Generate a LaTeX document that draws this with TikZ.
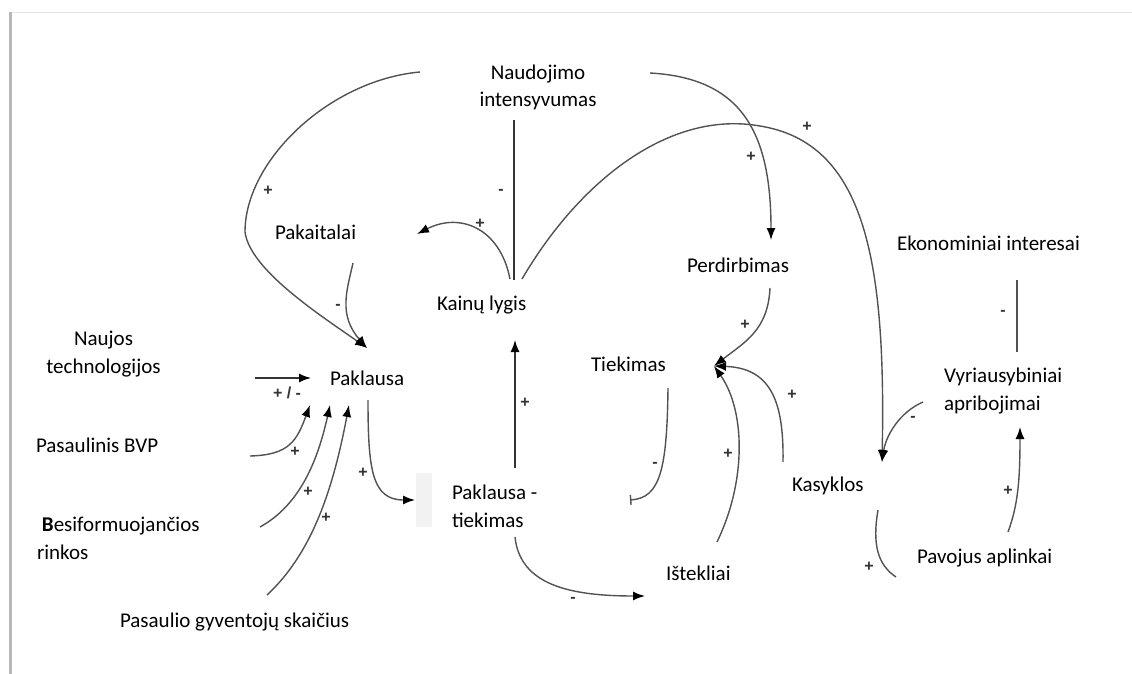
\documentclass[tikz,border=0pt]{standalone}
\usepackage{fontspec}
\setmainfont{Carlito}
\newfontfamily\signfont{Liberation Sans}
\usetikzlibrary{arrows.meta}

\begin{document}
\begin{tikzpicture}[x=1pt,y=-1pt,
  every node/.style={inner sep=0pt, outer sep=0pt},
  lbl/.style={font=\fontsize{21}{27.5}\selectfont},
  sign/.style={font=\signfont\bfseries\fontsize{16}{16}\selectfont, text=black!80},
  conn/.style={draw=black!68, line width=1.4pt},
  straight/.style={draw=black!80, line width=1.4pt},
  tip/.style={-{Latex[length=12pt,width=9pt,color=black]}},
]
\useasboundingbox (0,0) rectangle (1132,674);

% page frame
\draw[black!10, line width=1.5pt] (10.5,12.5) -- (1132,12.5);
\draw[black!28, line width=2.5pt] (10.5,12) -- (10.5,674);
\fill[black!5] (416,473) rectangle (432,527);

% variables (multi-line nodes sit on the baseline of their last line)
\node[lbl, align=center, anchor=base] (naud) at (538,107) {Naudojimo\\intensyvumas};
\node[lbl, anchor=base west] (pakait) at (275,239) {Pakaitalai};
\node[lbl, anchor=base west] (kain) at (437,310) {Kainų lygis};
\node[lbl, anchor=base west] (perd) at (687,272) {Perdirbimas};
\node[lbl, anchor=base west] (ekon) at (897,250) {Ekonominiai interesai};
\node[lbl, align=center, anchor=base] (naujos) at (103.5,373) {Naujos\\technologijos};
\node[lbl, anchor=base west] (pakl) at (330,385) {Paklausa};
\node[lbl, anchor=base west] (tiek) at (591,371) {Tiekimas};
\node[lbl, align=left, anchor=base west] (vyr) at (944,410) {Vyriausybiniai\\apribojimai};
\node[lbl, anchor=base west] (bvp) at (36,452) {Pasaulinis BVP};
\node[lbl, anchor=base west] (kas) at (792,491) {Kasyklos};
\node[lbl, align=left, anchor=base west] (pt) at (452,527) {Paklausa -\\tiekimas};
\node[lbl, align=left, anchor=base west] (besi) at (37,559) {\hspace*{5pt}\textbf{B}esiformuojančios\\rinkos};
\node[lbl, anchor=base west] (ist) at (666,580) {Ištekliai};
\node[lbl, anchor=base west] (pav) at (917,563) {Pavojus aplinkai};
\node[lbl, anchor=base west] (gyv) at (120,627) {Pasaulio gyventojų skaičius};

% connector ends
\coordinate (naudL) at (420,72);
\coordinate (naudR) at (650,73);
\coordinate (naudB) at (514,120);
\coordinate (kainT) at (514,280);
\coordinate (kainL) at (510,279);
\coordinate (kainR) at (522,279);
\coordinate (kainIn) at (515,340);
\coordinate (pakaitIn) at (417,234);
\coordinate (pakaitB) at (353,263);
\coordinate (paklIn) at (367,348);
\coordinate (paklB) at (368,400);
\coordinate (paklW) at (255,378);
\coordinate (paklWin) at (311,378);
\coordinate (paklS1) at (310,405);
\coordinate (paklS2) at (330,405);
\coordinate (paklS3) at (349,405);
\coordinate (bvpE) at (250,456);
\coordinate (besiE) at (260,527);
\coordinate (gyvE) at (267,595);
\coordinate (ptIn) at (415,500);
\coordinate (ptT) at (515,468);
\coordinate (ptB) at (515,537);
\coordinate (perdIn) at (771,240);
\coordinate (perdB) at (770,288);
\coordinate (tiekB) at (668,388);
\coordinate (tiekEnd) at (630,500);
\coordinate (istIn) at (645,596);
\coordinate (istT) at (717,542);
\coordinate (join) at (714,366);
\coordinate (kasT) at (783,462);
\coordinate (kasIn) at (882,462);
\coordinate (kasB) at (878,510);
\coordinate (pavW) at (896,577);
\coordinate (pavT) at (1008,532);
\coordinate (vyrT) at (1017,352);
\coordinate (vyrIn) at (1020,427);
\coordinate (vyrW) at (923,402);
\coordinate (ekonB) at (1017,280);

% links
\draw[conn,tip] (naudL) .. controls (330,80) and (245,160) .. (245,232)
  .. controls (250,270) and (320,315) .. (paklIn);
\draw[conn,tip] (pakaitB) .. controls (347,290) and (338,315) .. (paklIn);
\draw[straight] (naudB) -- (kainT);
\draw[conn,tip] (kainL) .. controls (500,228) and (460,212) .. (pakaitIn);
\draw[conn,tip] (kainR) .. controls (580,180) and (670,110) .. (760,126)
  .. controls (865,143) and (886,260) .. (kasIn);
\draw[conn,tip] (naudR) .. controls (740,78) and (771,130) .. (perdIn);
\draw[conn,tip] (perdB) .. controls (768,330) and (745,342) .. (join);
\draw[conn,tip] (istT) .. controls (747,480) and (745,410) .. (join);
\draw[conn,tip] (kasT) .. controls (784,400) and (770,368) .. (join);
\draw[conn,-{Bar[width=10pt]}] (tiekB) .. controls (667,470) and (660,498) .. (tiekEnd);
\draw[conn,tip] (paklB) .. controls (368,470) and (372,500) .. (ptIn);
\draw[straight,tip] (ptT) -- (kainIn);
\draw[conn,tip] (ptB) .. controls (520,585) and (570,596) .. (istIn);
\draw[straight,tip] (paklW) -- (paklWin);
\draw[conn,tip] (bvpE) .. controls (290,455) and (297,440) .. (paklS1);
\draw[conn,tip] (besiE) .. controls (300,505) and (318,460) .. (paklS2);
\draw[conn,tip] (gyvE) .. controls (310,555) and (332,495) .. (paklS3);
\draw[conn] (ekonB) -- (vyrT);
\draw[conn,tip] (vyrW) .. controls (900,412) and (886,435) .. (kasIn);
\draw[conn,tip] (pavT) .. controls (1018,505) and (1020,480) .. (vyrIn);
\draw[conn] (kasB) .. controls (872,545) and (878,565) .. (pavW);

% polarity signs
\node[sign] (s1) at (268,191) {+};
\node[sign] (s2) at (338,307) {-};
\node[sign] (s3) at (501,192) {-};
\node[sign] (s4) at (480,224) {+};
\node[sign] (s5) at (807,127) {+};
\node[sign] (s6) at (751,157) {+};
\node[sign] (s7) at (745,325) {+};
\node[sign] (s8) at (728,454) {+};
\node[sign] (s9) at (792,395) {+};
\node[sign] (s10) at (655,465) {-};
\node[sign] (s11) at (363,473) {+};
\node[sign] (s12) at (525,403) {+};
\node[sign] (s13) at (573,600) {-};
\node[sign] (s14) at (287,393) {+ / -};
\node[sign] (s15) at (295,452) {+};
\node[sign] (s16) at (308,492) {+};
\node[sign] (s17) at (326,518) {+};
\node[sign] (s18) at (1003,313) {-};
\node[sign] (s19) at (913,419) {-};
\node[sign] (s20) at (1008,491) {+};
\node[sign] (s21) at (869,567) {+};
\end{tikzpicture}
\end{document}
